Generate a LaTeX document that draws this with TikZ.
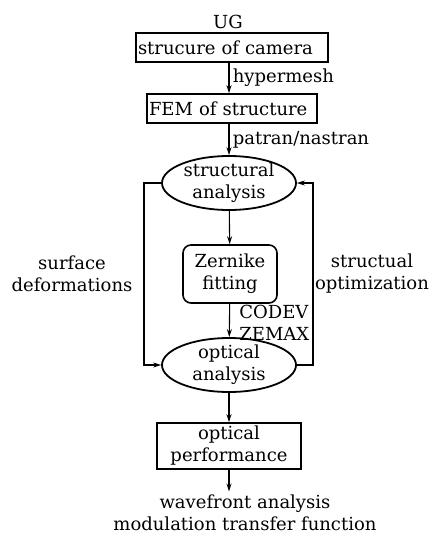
\documentclass[tikz,border=0pt]{standalone}
\usepackage{fontspec}
\setmainfont{DejaVu Serif}
\usetikzlibrary{arrows.meta,positioning,shapes.geometric}

\begin{document}
\begin{tikzpicture}[
            x=1pt, y=-1pt,
            font=\fontsize{18}{22}\selectfont,
            box/.style={rectangle, draw=black, line width=1.6pt, inner xsep=2pt, inner ysep=0pt, align=left},
            oval/.style={ellipse, draw=black, line width=1.8pt, minimum width=134pt, minimum height=54pt, inner sep=-1pt, align=center},
            rbox/.style={rectangle, rounded corners=8pt, draw=black, line width=1.6pt, minimum width=94pt, minimum height=58pt, inner sep=0pt, align=center},
            arrow/.style={line width=1.1pt,->,>={Stealth[length=8pt,width=5pt]}}
        ]
        \useasboundingbox (0,0) rectangle (434,536);

        % Nodi
        \node (ug) at (228,22) {UG};
        \node (camera) [box, text width=188pt, minimum height=29pt] at (232,47.5) {strucure of camera};
        \node (fem) [box, text width=166pt, minimum height=29pt] at (232,108.5) {FEM of structure};

        \node (struct) [oval] at (229,183) {structural\\analysis};
        \node (zernike) [rbox] at (230,274) {Zernike\\fitting};
        \node (optic) [oval] at (229,365) {optical\\analysis};

        \node (perf) [box, align=center, minimum width=144pt, minimum height=46pt] at (229,446) {optical\\performance};
        \node (out) [align=center] at (245,513) {wavefront analysis\\modulation transfer function};

        % Etichette dei rami laterali
        \node (surf) [align=center] at (72,274) {surface\\deformations};
        \node (optim) [align=center] at (372,274) {structual\\optimization};

        % Punti di svolta
        \coordinate (lft) at (144,183);
        \coordinate (rgt) at (313,365);

        % Collegamenti
        \draw [arrow] (camera.south -| struct) -- node[right] {hypermesh} (fem.north -| struct);
        \draw [arrow] (fem.south -| struct) -- node[right] {patran/nastran} (struct);
        \draw [arrow] (struct) -- (zernike);
        \draw [arrow] (zernike) -- node[right, align=left, xshift=6pt, yshift=-2pt] {CODEV\\ZEMAX} (optic);
        \draw [arrow] (optic) -- (perf);
        \draw [arrow] (perf) -- (perf |- out.north);

        % Anelli di retroazione
        \draw [arrow] (struct.west) -- (lft) |- (optic.west);
        \draw [arrow] (optic.east) -- (rgt) |- (struct.east);

    \end{tikzpicture}
\end{document}
